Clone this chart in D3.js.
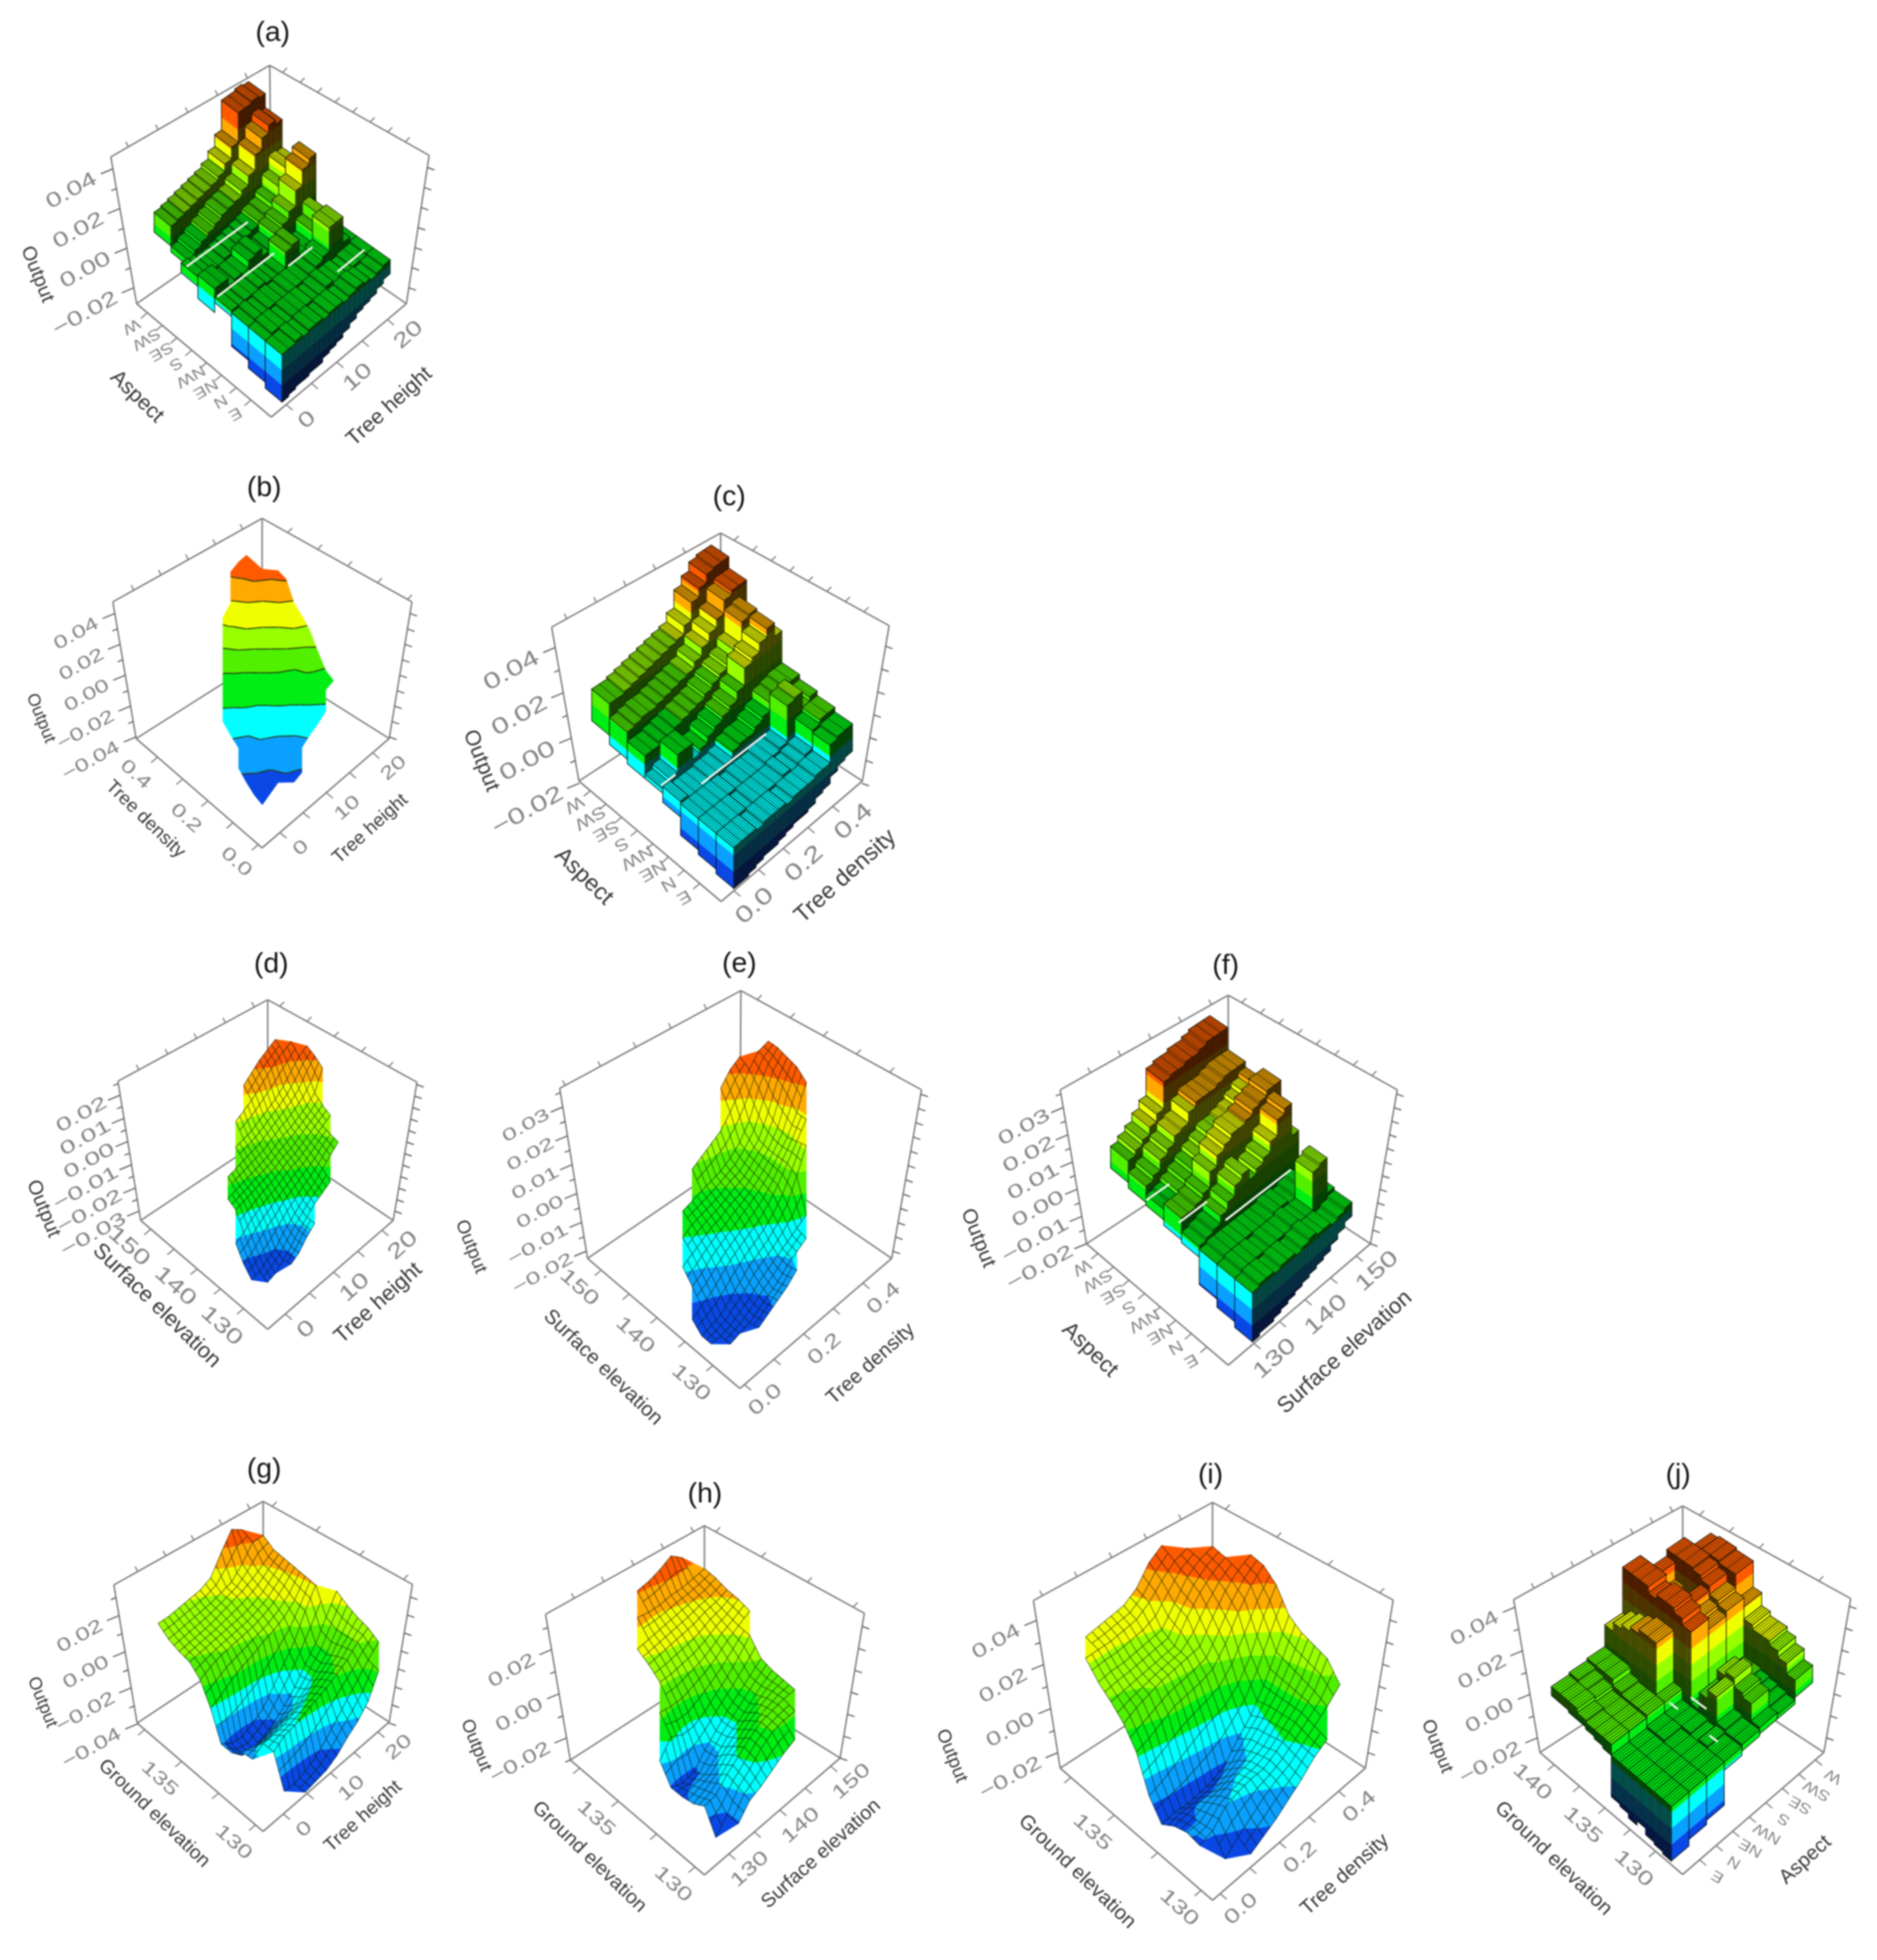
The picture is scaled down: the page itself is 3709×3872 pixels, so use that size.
<!DOCTYPE html>
<html><head><meta charset="utf-8">
<script src="https://d3js.org/d3.v7.min.js"></script>
<style>html,body{margin:0;background:#fff}svg{display:block;filter:blur(1.4px)}text{font-family:"Liberation Sans",Arial,sans-serif}</style>
</head><body><svg id="c" width="3709" height="3872"></svg>
<script>
// Output values are in units of 0.001.
const aspectCats=["E","N","NE","NW","S","SE","SW","W"];
const bandColors=["#0a48e6","#0aa0ff","#00ffff","#00ee14","#50f000","#98ff00","#f0ff00","#ffaa00","#ff5a00"];

// Surface grids: each row is [row index along left axis, first column index, ...values]
const gridB=[[2,6,-33,-31],[3,3,-39,-36,-33,-29,-27,-23,-19,-16,-12],[4,3,-37,-33,-31,-27,-24,-21,-16,-12,-9,-6,-4],[5,3,-33,-29,-27,-24,-21,-16,-13,-9,-6,-3,-1],[6,3,-28,-26,-22,-19,-15,-12,-9,-6,-2,2,8],[7,4,-23,-21,-17,-13,-9,-7,-3,-1,7,18],[8,4,-19,-15,-11,-9,-6,-2,1,9,21,24],[9,4,-14,-11,-8,-5,-2,1,9,19,25,29],[10,5,-7,-5,-2,1,9,19,24,31,41],[11,6,-2,2,11,21,25,29,39,43],[12,7,9,19,23,31,41,44],[13,8,23,29,38,43,45],[14,10,42,45,46]];
const gridD=[[2,5,-26,-24,-20,-17],[3,3,-31,-30,-27,-24,-20,-17,-14,-12,-10],[4,2,-30,-29,-27,-25,-21,-18,-15,-12,-10,-7,-4,-1],[5,2,-26,-24,-21,-18,-16,-13,-11,-9,-7,-5,-2,0],[6,2,-20,-18,-15,-13,-11,-10,-8,-6,-5,-3,-1,1,3],[7,3,-11,-10,-9,-8,-7,-6,-4,-3,-1,1,3,5],[8,3,-9,-8,-7,-6,-5,-4,-2,0,1,3,5,8,16],[9,4,-5,-4,-3,-2,-1,1,3,5,7,10,15,19],[10,6,0,1,2,4,6,8,11,15,19,21],[11,7,6,8,10,13,16,19,21,23],[12,9,14,17,20,22,24]];
const gridE=[[2,4,-18,-16,-14,-12,-9],[3,2,-21,-20,-19,-17,-15,-13,-10,-8,-6],[4,1,-21,-21,-20,-18,-16,-13,-11,-9,-7,-5,-3],[5,1,-21,-20,-19,-16,-13,-10,-8,-6,-3,1,8,16],[6,1,-18,-16,-14,-11,-8,-6,-4,-2,1,5,10,15,20],[7,2,-12,-10,-7,-5,-3,-1,1,3,6,10,14,20,28],[8,2,-8,-6,-4,-2,-1,1,2,4,7,10,15,24,31],[9,3,-3,-1,0,1,2,4,5,8,11,18,27,32],[10,4,1,2,3,4,5,7,10,15,24,30,33],[11,6,8,10,12,14,18,23,28,32,33],[12,10,24,28,30]];
const gridG=[[0,4,-38,-37,-36,-33,-28,-24,-18,-6],[1,3,-37,-38,-36,-33,-28,-22,-16,-10,-4,1],[2,3,-20,-16,-15,-13,-11,-9,-6,-3,2,5],[3,2,-24,-20,-20,-19,-17,-15,-12,-9,-5,1,7],[4,2,-25,-27,-28,-26,-25,-22,-18,-13,-8,1,10],[5,2,-30,-36,-37,-35,-32,-27,-21,-13,-6,4,14],[6,2,-30,-34,-35,-32,-28,-20,-12,-4,8,18],[7,2,-15,-12,-8,-5,-3,0,2,5,10,19],[8,2,-4,-1,1,2,3,4,6,9,14,20],[9,2,1,2,3,4,5,6,8,11,16,21],[10,2,2,3,4,5,7,9,11,14,18,22],[11,2,4,5,6,7,8,10,12,18,26,26],[12,2,8,8,9,10,11,14,24,33,29]];
const gridH=[[0,3,-20,-14,-12,-9,-6,-4],[1,2,-26,-20,-12,-8,-3,0,1,1],[2,2,-16,-15,-10,-6,-2,1,2,3,3],[3,2,-19,-17,-14,-9,-6,-2,1,3,4],[4,2,-20,-19,-18,-14,-9,-6,-2,2,5],[5,2,-20,-22,-21,-15,-10,-5,-1,3,7],[6,2,-12,-5,-8,-8,-5,-1,3,8,14],[7,3,2,1,1,3,5,8,12,15,18],[8,4,8,8,9,10,12,15,17,20],[9,4,12,13,14,15,16,18,19,21],[10,4,15,16,17,18,19,20,21,23],[11,5,22,21,21,22,22,23,24],[12,6,27,28,30,33,29]];
const gridI=[[0,3,-21,-18,-15,-11,-7,-2,1],[1,2,-23,-18,-14,-10,-7,-5,-1,3,7,12],[2,1,-17,-15,-9,-7,-6,-6,-3,1,5,10,20],[3,1,-16,-16,-12,-10,-8,-7,-5,0,5,12,22],[4,1,-18,-17,-16,-16,-14,-11,-6,-1,5,14,24],[5,1,-22,-21,-22,-21,-20,-17,-10,-4,5,16,28],[6,1,-14,-12,-9,-6,-3,-1,1,6,15,28,38],[7,1,1,3,6,9,10,11,13,20,30,38,43],[8,1,9,12,14,16,17,18,19,28,36,41,44],[9,1,14,15,16,17,18,19,28,35,40,43],[10,1,18,19,19,20,21,22,30,38,42,44],[11,1,24,24,24,25,26,30,36,41,43],[12,2,25,26,27,28,32,40,44]];

// Bar panels: rows by first axis bin, columns by second axis bin
const barsA=[[-1,-1,0,-1,0,0,-1,0,0,-1,0,1,0,-1,0,1],[-1,0,0,-1,0,0,0,-1,0,1,0,0,-1,0,0,1],[-1,0,-1,0,0,-1,0,0,0,1,2,4,16,16,3,1],[0,-1,0,0,1,0,-1,0,8,9,2,2,8,14,5,2],[4,4,0,1,1,5,6,2,3,8,10,14,22,30,33,null],[3,2,1,1,2,3,4,5,6,8,9,12,18,25,24,null],[null,2,4,6,8,10,12,13,14,17,22,30,36,40,38,null],[null,12,13,14,15,16,17,18,20,24,30,45,45,46,45,null]];
const skirtAu=[-25,-24,-23,-23,-22,-22,-20,-19,-18,-16,-14,-12,-11,-10,-8,-6];
const skirtAv=[-25,-22,-18,-3,-8,-2,-1,2];
const whiteA=[[.75,.12,.575,-1],[.5,.1,.52,-1],[.375,.5,.68,0],[.17,.66,.86,-1]];
const barsC=[[0,0,0,-1,0,0,0,-1,0,0,0,1,1,9,10,10],[0,0,0,0,-1,0,0,0,0,1,0,1,2,10,12,12],[0,0,0,0,0,-1,0,0,0,1,1,2,18,19,12,14],[1,0,0,0,1,1,2,5,6,6,8,10,14,15,16,16],[0,2,10,10,3,5,8,10,12,14,18,26,28,32,36,30],[8,8,9,10,11,12,13,14,16,18,20,22,26,36,37,null],[12,13,14,14,15,16,17,18,19,22,26,30,34,40,42,42],[18,18,19,20,21,22,23,24,25,26,30,38,42,46,47,47]];
const skirtCu=[-18,-18,-17,-16,-15,-15,-14,-13,-12,-12,-11,-9,-8,-5,-3,-2];
const skirtCv=[-18,-16,-14,-6,-2,-2,0,4];
const whiteC=[[.39,.25,.71,0],[.52,.1,.2,0]];
const barsF=[[-1,0,0,-1,0,0,-1,0,1,0,0,-1,0,1],[-1,0,0,0,-1,0,0,0,1,0,0,14,15,2],[-1,0,0,0,0,0,0,0,1,1,0,1,2,1],[0,1,2,5,8,12,14,10,12,14,18,24,26,14],[5,5,6,8,14,18,20,22,22,23,25,26,28,28],[3,4,6,8,10,12,14,16,16,17,18,20,22,24],[6,8,12,14,17,18,22,24,24,24,25,26,26,26],[10,12,14,17,20,30,31,31,32,32,33,34,34,34]];
const skirtFu=[-19,-18,-18,-17,-16,-15,-14,-13,-12,-11,-10,-8,-6,-4];
const skirtFv=[-19,-17,-14,-4,-3,-1,0,2];
const whiteF=[[.76,.18,.345,0],[.55,.2,.4,0],[.4,.38,.84,0]];
const barsJ=[[0,0,0,0,1,2,1,10],[0,0,0,0,1,10,2,15],[0,0,0,1,2,12,3,18],[0,0,0,0,14,16,4,20],[0,0,0,1,10,14,5,20],[0,0,1,1,2,3,5,22],[0,0,1,1,35,30,32,28],[5,5,6,6,38,32,34,40],[5,5,6,30,40,36,38,40],[5,5,6,30,40,30,40,41],[6,5,7,28,38,28,41,41],[8,7,10,26,41,30,41,40],[8,8,10,24,41,38,41,null],[8,9,10,20,41,null,null,null]];
const skirtJu=[-25,-22,-20,-4,-2,-1,-1,2];
const skirtJv=[-25,-24,-23,-20,-22,-20,-19,0,1,2,3,3,4,4];
const whiteJ=[[.55,.38,.49,0],[.44,.19,.25,0],[.43,.46,.52,2]];

const ticks={
 height:[0,5,10,15,20], heightLab:[0,10,20],
 density:[0,.1,.2,.3,.4], densityLab:[0,.2,.4],
 surface:[130,135,140,145,150], surfaceLab:[130,140,150],
 ground:[130,132.5,135,137.5], groundLab:[130,135],
 ground3:[130,132.5,135,137.5,140], ground3Lab:[130,135,140]
};
const axH={name:"Tree height",t:ticks.height,l:ticks.heightLab,f:d3.format("d")};
const axD={name:"Tree density",t:ticks.density,l:ticks.densityLab,f:d3.format(".1f")};
const axS={name:"Surface elevation",t:ticks.surface,l:ticks.surfaceLab,f:d3.format("d")};
const axG={name:"Ground elevation",t:ticks.ground,l:ticks.groundLab,f:d3.format("d")};
const axG3={name:"Ground elevation",t:ticks.ground3,l:ticks.ground3Lab,f:d3.format("d")};
const axA={name:"Aspect",cats:aspectCats};

const panels=[
{title:"(a)",tp:[539,66],T:[533,129],Lt:[219,310],Rt:[848,307],L:[270,600],R:[803,600],F:[536,824],B:[536,416],zDom:[-28,46],band:[-24,44],zStep:10,zL:[-20,0,20,40],uA:axA,uR:[.15,.92],vA:axH,vR:[.11,.86],oP:[73,542],uP:[270,784],vP:[770,804],fs:42,
 bars:barsA,su:skirtAu,sv:skirtAv,white:whiteA,uE:d3.range(9).map(i=>i/8),vE:d3.range(17).map(i=>.08+.05*i),rib:"v"},
{title:"(b)",tp:[522,965],T:[518,1024],Lt:[223,1189],Rt:[814,1189],L:[269,1459],R:[769,1459],F:[518,1675],B:[518,1301],zDom:[-41,47.5],band:[-40,50],zStep:10,zL:[-40,-20,0,20,40],uA:axD,uR:[.03,.83],vA:axH,vR:[.14,.87],oP:[80,1419],uP:[287,1619],vP:[732,1638],fs:37,
 grid:gridB,N:16,sub:1,mesh:false},
{title:"(c)",tp:[1441,983],T:[1424,1053],Lt:[1090,1239],Rt:[1757,1236],L:[1144,1543],R:[1704,1543],F:[1425,1781],B:[1425,1359],zDom:[-19,49],band:[-18,48],zStep:10,zStart:-20,zL:[-20,0,20,40],uA:axA,uR:[.15,.92],vA:axD,vR:[.09,.79],oP:[950,1503],uP:[1153,1732],vP:[1671,1732],fs:46,
 bars:barsC,su:skirtCu,sv:skirtCv,white:whiteC,uE:d3.range(9).map(i=>i/8),vE:d3.range(17).map(i=>.09+.0525*i),rib:"v"},
{title:"(d)",tp:[536,1906],T:[529,1975],Lt:[233,2136],Rt:[824,2138],L:[278,2411],R:[777,2411],F:[529,2626],B:[529,2244],zDom:[-34,26],band:[-31,24],zStep:5,dense:true,zL:[-30,-20,-10,0,10,20],uA:axS,uR:[.19,.92],vA:axH,vR:[.14,.91],oP:[85,2388],uP:[309,2580],vP:[748,2575],fs:43,
 grid:gridD,N:16,sub:2,mesh:true},
{title:"(e)",tp:[1461,1905],T:[1464,1957],Lt:[1106,2150],Rt:[1821,2153],L:[1161,2486],R:[1762,2486],F:[1462,2743],B:[1462,2281],zDom:[-22.5,36.5],band:[-21,33],zStep:5,dense:true,zL:[-20,-10,0,10,20,30],uA:axS,uR:[.177,.91],vA:axD,vR:[.03,.81],oP:[930,2463],uP:[1191,2702],vP:[1721,2695],fs:40,
 grid:gridE,N:16,sub:2,mesh:true},
{title:"(f)",tp:[2422,1909],T:[2427,1966],Lt:[2095,2153],Rt:[2761,2153],L:[2147,2457],R:[2708,2457],F:[2427,2697],B:[2427,2273],zDom:[-20,36.5],band:[-19,34],zStep:5,dense:true,zL:[-20,-10,0,10,20,30],uA:axA,uR:[.15,.92],vA:axS,vR:[.18,.90],oP:[1932,2446],uP:[2153,2667],vP:[2658,2672],fs:44,
 bars:barsF,su:skirtFu,sv:skirtFv,white:whiteF,uE:d3.range(9).map(i=>i/8),vE:d3.range(15).map(i=>.17+.05*i),rib:"v"},
{title:"(g)",tp:[522,2904],T:[520,2966],Lt:[225,3131],Rt:[815,3130],L:[271,3404],R:[769,3402],F:[520,3618],B:[520,3239],zDom:[-39.5,37],band:[-39,34],zStep:10,zStart:-40,zL:[-40,-20,0,20],uA:axG,uR:[.06,.94],vA:axH,vR:[.16,.91],oP:[83,3363],uP:[304,3583],vP:[718,3589],fs:38,
 grid:gridG,N:12,sub:2,mesh:true},
{title:"(h)",tp:[1393,2953],T:[1392,3014],Lt:[1078,3189],Rt:[1708,3187],L:[1127,3477],R:[1660,3473],F:[1392,3704],B:[1392,3306],zDom:[-30,36],band:[-26,33],zStep:10,zL:[-20,0,20],uA:axG,uR:[.07,.93],vA:axS,vR:[.18,.93],oP:[940,3448],uP:[1164,3669],vP:[1623,3663],fs:39,
 grid:gridH,N:12,sub:2,mesh:true},
{title:"(i)",tp:[2392,2915],T:[2396,2968],Lt:[2042,3162],Rt:[2753,3161],L:[2095,3493],R:[2698,3493],F:[2396,3754],B:[2396,3297],zDom:[-27,49],band:[-24,46],zStep:10,zL:[-20,0,20,40],uA:axG,uR:[.075,.93],vA:axD,vR:[.05,.825],oP:[1880,3469],uP:[2128,3698],vP:[2658,3704],fs:40,
 grid:gridI,N:12,sub:2,mesh:true},
{title:"(j)",tp:[3316,2915],T:[3325,2975],Lt:[2991,3160],Rt:[3657,3158],L:[3043,3462],R:[3604,3462],F:[3325,3703],B:[3325,3279],zDom:[-26.7,43.5],band:[-25,42],zStep:10,zL:[-20,0,20,40],uA:axG3,uR:[.19,.90],vA:axA,vR:[.12,.94],oP:[2839,3450],uP:[3069,3672],vP:[3568,3675],fs:40,
 bars:barsJ,su:skirtJu,sv:skirtJv,white:whiteJ,uE:d3.range(15).map(i=>.08+.06*i),vE:d3.range(9).map(i=>i/8),rib:"u"}
];

const svg=d3.select("#c");
const line=d3.line();
const lerp=(a,b,t)=>[a[0]+(b[0]-a[0])*t,a[1]+(b[1]-a[1])*t];
const axisScale=(ax,range)=>ax.cats?d3.scalePoint().domain(ax.cats).range(range):d3.scaleLinear().domain([ax.t[0],ax.t[ax.t.length-1]]).range(range);

function label(g,x,y,str,o){
 g.append("text").attr("transform",`translate(${x},${y}) rotate(${o.rot||0}) scale(${o.sx||1},1)`)
  .attr("text-anchor",o.anchor||"middle").attr("dominant-baseline","middle")
  .attr("font-size",o.fs).attr("fill",o.fill).text(str);
}
function seg(g,a,b,col,w){g.append("path").attr("d",line([a,b])).attr("stroke",col).attr("stroke-width",w).attr("fill","none");}

function drawAxes(g,p){
 const col="#808080";
 [[p.T,p.B],[p.L,p.B],[p.R,p.B],[p.F,p.L],[p.F,p.R],[p.L,p.Lt],[p.R,p.Rt],[p.Lt,p.T],[p.Rt,p.T]].forEach(e=>seg(g,e[0],e[1],col,3));
 const zs=d3.scaleLinear().domain(p.zDom).range([0,1]);
 const fz=d3.format(".2f");
 const zf=p.dense?{fs:p.fs*.84,sx:1.55,dx:-28,dy:13}:{fs:p.fs*.96,sx:1.38,dx:-34,dy:18};
 const start=p.zStart!==undefined?p.zStart:Math.ceil(p.zDom[0]/p.zStep)*p.zStep;
 d3.range(start,p.zDom[1]+.01,p.zStep).forEach(z=>{
  const w=zs(z); const a=lerp(p.L,p.Lt,w), b=lerp(p.R,p.Rt,w);
  const major=p.zL.includes(z);
  seg(g,a,[a[0]-(major?24:10),a[1]+(major?10:4)],"#666",2.5);
  seg(g,b,[b[0]+14,b[1]+5],"#666",2.5);
  if(major) label(g,a[0]+zf.dx,a[1]+zf.dy,fz(z/1000),{rot:-29,sx:zf.sx,fs:zf.fs,fill:"#858585",anchor:"end"});
 });
 const us=axisScale(p.uA,p.uR), vs=axisScale(p.vA,p.vR);
 const uVals=p.uA.cats||p.uA.t, vVals=p.vA.cats||p.vA.t;
 uVals.forEach(d=>{const t=us(d),a=lerp(p.F,p.L,t),top=lerp(p.Rt,p.T,t);
  seg(g,a,[a[0]-13,a[1]+11],col,2.5); seg(g,top,[top[0]+9,top[1]-9],col,2.5);
  if(p.uA.cats) label(g,a[0]-32,a[1]+26,d,{rot:150,sx:1.2,fs:p.fs*.72,fill:"#858585"});
  else if(p.uA.l.includes(d)) label(g,a[0]-44,a[1]+35,p.uA.f(d),{rot:42,sx:1.35,fs:p.fs*.98,fill:"#858585"});
 });
 vVals.forEach(d=>{const t=vs(d),a=lerp(p.F,p.R,t),top=lerp(p.Lt,p.T,t);
  seg(g,a,[a[0]+13,a[1]+11],col,2.5); seg(g,top,[top[0]-5,top[1]-10],col,2.5);
  if(p.vA.cats) label(g,a[0]+36,a[1]+32,d,{rot:210,sx:1.2,fs:p.fs*.72,fill:"#858585"});
  else if(p.vA.l.includes(d)) label(g,a[0]+42,a[1]+31,p.vA.f(d),{rot:-42,sx:1.35,fs:p.fs*.98,fill:"#858585"});
 });
 label(g,p.oP[0],p.oP[1],"Output",{rot:68,fs:p.fs*.92,fill:"#383838"});
 label(g,p.uP[0],p.uP[1],p.uA.name,{rot:44,fs:p.fs,fill:"#383838"});
 label(g,p.vP[0],p.vP[1],p.vA.name,{rot:-42,fs:p.fs,fill:"#383838"});
 label(g,p.tp[0],p.tp[1],p.title,{fs:56,fill:"#151515"});
}

function clip(poly,lo,hi){
 const cut=(pts,test,lim)=>{const out=[];pts.forEach((a,i)=>{const b=pts[(i+1)%pts.length],ia=test(a[2]),ib=test(b[2]);
   if(ia)out.push(a); if(ia!==ib){const t=(lim-a[2])/(b[2]-a[2]);out.push([a[0]+(b[0]-a[0])*t,a[1]+(b[1]-a[1])*t,lim]);}});return out;};
 let r=cut(poly,z=>z>=lo,lo); if(r.length<3)return r; return cut(r,z=>z<=hi,hi);
}
function paint(g,poly,levels,shade){
 const edges=[-1e9].concat(levels,[1e9]);
 bandColors.forEach((col,i)=>{
  const r=clip(poly,edges[i],edges[i+1]); if(r.length<3)return;
  const c=d3.rgb(col); const f=shade||1; const fill=d3.rgb(c.r*f,c.g*f,c.b*f).formatHex();
  g.append("path").attr("d",line(r.map(q=>[q[0],q[1]]))+"Z").attr("fill",fill).attr("stroke",fill).attr("stroke-width",.8);
 });
}
function contourLines(g,poly,levels){
 levels.forEach(l=>{const pts=[];poly.forEach((a,i)=>{const b=poly[(i+1)%poly.length];
   if((a[2]-l)*(b[2]-l)<0){const t=(l-a[2])/(b[2]-a[2]);pts.push([a[0]+(b[0]-a[0])*t,a[1]+(b[1]-a[1])*t]);}});
  if(pts.length>=2) seg(g,pts[0],pts[1],"#2a3a10",2.2);
 });
}
function projector(p){
 const zs=d3.scaleLinear().domain(p.zDom).range([0,p.L[1]-p.Lt[1]]);
 return (u,v,z)=>{const a=(1-u)*(1-v),b=u*(1-v),c=(1-u)*v,d=u*v;
  return [a*p.F[0]+b*p.L[0]+c*p.R[0]+d*p.B[0],a*p.F[1]+b*p.L[1]+c*p.R[1]+d*p.B[1]-zs(z),z];};
}
function drawSurface(g,p,levels){
 const proj=projector(p),N=p.N,sub=p.sub,rows=new Map(p.grid.map(r=>[r[0],{s:r[1],v:r.slice(2)}]));
 const val=(i,j)=>{const r=rows.get(i);if(!r)return null;const x=r.v[j-r.s];return x===undefined?null:x;};
 const meshPath=(d)=>g.append("path").attr("d",d).attr("fill","none").attr("stroke","#0a1a05").attr("stroke-opacity",.62).attr("stroke-width",1.4);
 for(let i=N;i>=-1;i--)for(let j=N;j>=-1;j--){
  const a=val(i,j),b=val(i+1,j),c=val(i+1,j+1),d=val(i,j+1);
  const vs=[a,b,c,d], missing=vs.filter(x=>x===null).length;
  if(missing===1){
   const m=vs.indexOf(null), corners=[[i,j],[i+1,j],[i+1,j+1],[i,j+1]];
   const tri=[1,2,3].map(k=>{const q=(m+k)%4;return proj(corners[q][0]/N,corners[q][1]/N,vs[q]);});
   paint(g,tri,levels);
   if(p.mesh) meshPath(line(tri.map(q=>[q[0],q[1]])));
   else contourLines(g,tri,levels);
   continue;
  }
  if(missing>0)continue;
  const zAt=(s,t)=>a*(1-s)*(1-t)+b*s*(1-t)+c*s*t+d*(1-s)*t;
  for(let si=sub-1;si>=0;si--)for(let sj=sub-1;sj>=0;sj--){
   const P=(x,y)=>{const s=(si+x)/sub,t=(sj+y)/sub;return proj((i+s)/N,(j+t)/N,zAt(s,t));};
   const poly=[P(0,0),P(1,0),P(1,1),P(0,1)];
   paint(g,poly,levels);
   if(p.mesh) meshPath(line(poly.map(q=>[q[0],q[1]]))+"Z");
   else contourLines(g,poly,levels);
  }
 }
}
function drawBars(g,p,levels){
 const proj=projector(p),Z=p.bars,ribs=4,uE=p.uE,vE=p.vE;
 const wall=(pts,dark)=>{
  paint(g,pts,levels,dark?.45:1);
  g.append("path").attr("d",line(pts.map(q=>[q[0],q[1]]))+"Z").attr("fill","none").attr("stroke","#0a0a00").attr("stroke-opacity",.85).attr("stroke-width",1.6);
 };
 for(let i=Z.length-1;i>=0;i--)for(let j=Z[i].length-1;j>=0;j--){
  const z=Z[i][j]; if(z===null)continue;
  const u0=uE[i],u1=uE[i+1],v0=vE[j],v1=vE[j+1];
  let nb=i>0?Z[i-1][j]:null; if(nb===null) nb=p.su[j];
  if(nb<z){
   if(p.rib==="v"){for(let k=ribs-1;k>=0;k--){const a=v0+(v1-v0)*k/ribs,b=v0+(v1-v0)*(k+1)/ribs;wall([proj(u0,a,nb),proj(u0,b,nb),proj(u0,b,z),proj(u0,a,z)],true);}}
   else wall([proj(u0,v0,nb),proj(u0,v1,nb),proj(u0,v1,z),proj(u0,v0,z)],false);
  }
  let nv=j>0?Z[i][j-1]:null; if(nv===null) nv=p.sv[i];
  if(nv<z){
   if(p.rib==="u"){for(let k=ribs-1;k>=0;k--){const a=u0+(u1-u0)*k/ribs,b=u0+(u1-u0)*(k+1)/ribs;wall([proj(a,v0,nv),proj(b,v0,nv),proj(b,v0,z),proj(a,v0,z)],true);}}
   else wall([proj(u0,v0,nv),proj(u1,v0,nv),proj(u1,v0,z),proj(u0,v0,z)],false);
  }
  const top=[proj(u0,v0,z),proj(u1,v0,z),proj(u1,v1,z),proj(u0,v1,z)];
  paint(g,top,levels);
  for(let k=0;k<=ribs;k++){const t=k/ribs;
   const a=p.rib==="v"?proj(u0,v0+(v1-v0)*t,z):proj(u0+(u1-u0)*t,v0,z);
   const b=p.rib==="v"?proj(u1,v0+(v1-v0)*t,z):proj(u0+(u1-u0)*t,v1,z);
   g.append("path").attr("d",line([[a[0],a[1]],[b[0],b[1]]])).attr("stroke","#061006").attr("stroke-opacity",.75).attr("stroke-width",1.7);
  }
  g.append("path").attr("d",line(top.map(q=>[q[0],q[1]]))+"Z").attr("fill","none").attr("stroke","#061006").attr("stroke-opacity",.8).attr("stroke-width",1.6);
 }
 p.white.forEach(w=>{
  const a=p.rib==="v"?proj(w[0],w[1],w[3]):proj(w[1],w[0],w[3]);
  const b=p.rib==="v"?proj(w[0],w[2],w[3]):proj(w[2],w[0],w[3]);
  seg(g,[a[0],a[1]],[b[0],b[1]],"#f4f8f0",4);
 });
}
panels.forEach(p=>{
 const g=svg.append("g");
 const levels=d3.range(1,9).map(i=>p.band[0]+(p.band[1]-p.band[0])*i/9);
 drawAxes(g,p);
 if(p.grid) drawSurface(g,p,levels); else drawBars(g,p,levels);
});
</script></body></html>
